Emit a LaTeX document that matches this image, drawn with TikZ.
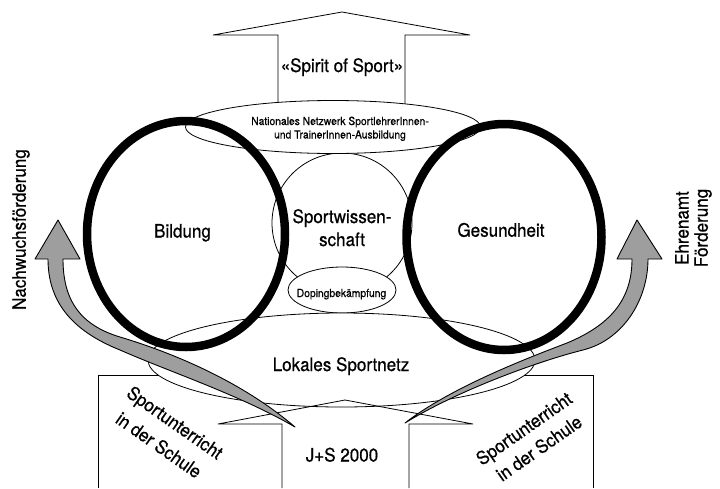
\documentclass[tikz,border=0pt]{standalone}
\usepackage{fontspec}
\setmainfont{TeX Gyre Heros}[FakeStretch=0.92,FakeBold=0.6]
\begin{document}
\begin{tikzpicture}[x=1pt,y=-1pt,
  thinline/.style={draw=black,line width=0.8pt,line join=miter},
  wfill/.style={thinline,fill=white},
  ring/.style={draw=black,line width=8.5pt},
  band/.style={fill=black!38,draw=black,line width=0.9pt,line join=round},
  lbl/.style={font=\fontsize{18.5}{23}\selectfont,inner sep=0pt,align=center},
  small/.style={font=\fontsize{11.2}{13.4}\selectfont,inner sep=0pt,align=center}]
\useasboundingbox (0,0) rectangle (720,488);
\fill[white] (0,0) rectangle (720,488);
% side boxes
\draw[thinline] (98,488) -- (98,375) -- (170,375);
\draw[thinline] (515,375) -- (593,375) -- (593,488);
% Sportwissenschaft circle
\draw[thinline] (342,223) ellipse [x radius=70, y radius=70];
% top arrow
\draw[wfill] (278,127) -- (278,35) -- (213,35) -- (342,12) -- (470,35) -- (405,35) -- (405,127) -- cycle;
% top ellipse
\draw[wfill] (333,127) ellipse [x radius=147.5, y radius=26.5];
% doping ellipse
\draw[wfill] (342,290) ellipse [x radius=54, y radius=23];
% lokales ellipse
\draw[wfill] (341.5,360) ellipse [x radius=193.5, y radius=47];
% J+S arrow
\draw[thinline] (282,488) -- (282,424) -- (218,424) -- (345,400) -- (473,424) -- (409,424) -- (409,488);
% rings
\draw[ring] (186,234) ellipse [x radius=99, y radius=113];
\draw[ring] (504,237) ellipse [x radius=97.5, y radius=113];
% grey bands
\draw[band] (58,220) -- (80,259) -- (63,259) .. controls (63,300) and (80,325) .. (120,337)
  .. controls (170,352) and (240,380) .. (295,427)
  .. controls (240,395) and (170,372) .. (120,350)
  .. controls (70,330) and (48,300) .. (48,259) -- (35,259) -- cycle;
\draw[band] (637,220) -- (617,259) -- (632,259) .. controls (632,300) and (610,325) .. (567,343)
  .. controls (525,359) and (450,388) .. (405,423)
  .. controls (455,392) and (535,362) .. (583,350)
  .. controls (623,340) and (648,300) .. (648,259) -- (662,259) -- cycle;
% texts
\node[lbl,anchor=base] (spirit) at (342,72) {«Spirit of Sport»};
\node[small,anchor=base] (nat1) at (340,125) {Nationales Netzwerk SportlehrerInnen-};
\node[small,anchor=base] (nat2) at (340,138.5) {und TrainerInnen-Ausbildung};
\node[lbl,anchor=base] (bildung) at (182.5,237.5) {Bildung};
\node[lbl,anchor=base] (gesund) at (501,236.7) {Gesundheit};
\node[lbl,anchor=base] (sw1) at (342,223) {Sportwissen-};
\node[lbl,anchor=base] (sw2) at (342,246) {schaft};
\node[small,anchor=base] (doping) at (341.5,297) {Dopingbekämpfung};
\node[lbl,anchor=base] (lokal) at (341,371) {Lokales Sportnetz};
\node[lbl,anchor=base] (js) at (342,461.5) {J+S 2000};
\node[lbl,rotate=90] (nach) at (21,229.5) {Nachwuchsförderung};
\node[lbl,rotate=90] (ehren1) at (682,228) {Ehrenamt};
\node[lbl,rotate=90] (ehren2) at (703,228) {Förderung};
\node[lbl,rotate=-35] (sul1) at (174,424) {Sportunterricht};
\node[lbl,rotate=-35] (sul2) at (159,445) {in der Schule};
\node[lbl,rotate=35] (sur1) at (525,430) {Sportunterricht};
\node[lbl,rotate=35] (sur2) at (539,448) {in der Schule};
\end{tikzpicture}
\end{document}
